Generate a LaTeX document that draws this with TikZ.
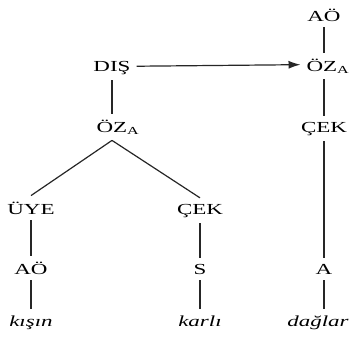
\documentclass[tikz,border=0pt]{standalone}
\usepackage{fontspec}
\setmainfont{Liberation Serif}
\newfontfamily\treefont[FakeStretch=1.5]{Liberation Serif}
\usetikzlibrary{arrows.meta}

\tikzset{
  lbl/.style={anchor=base, inner sep=0pt, outer sep=4.5pt, font=\treefont\fontsize{11.5}{13}\selectfont},
  word/.style={lbl, font=\treefont\fontsize{11.5}{13}\selectfont\itshape},
  edge/.style={line width=0.9pt, color=black!85},
}

\begin{document}
\begin{tikzpicture}[x=0.75pt,y=0.75pt,yscale=-1,xscale=1]
\useasboundingbox (0,0) rectangle (351,344);

% Text Node
\node [lbl] (dis) at (112,71) {DIŞ};
% Text Node
\node [lbl] (ozL) at (118,132) {ÖZ\textsubscript{A}};
% Text Node
\node [lbl] (uye) at (31,214) {ÜYE};
% Text Node
\node [lbl] (cekM) at (200,214) {ÇEK};
% Text Node
\node [lbl] (aoL) at (31,274) {AÖ};
% Text Node
\node [lbl] (s) at (200,274) {S};
% Text Node
\node [word] (kisin) at (31,326) {kışın};
% Text Node
\node [word] (karli) at (200,326) {karlı};
% Text Node
\node [lbl] (aoR) at (324,21) {AÖ};
% Text Node
\node [lbl] (ozR) at (328,71) {ÖZ\textsubscript{A}};
% Text Node
\node [lbl] (cekR) at (324,132) {ÇEK};
% Text Node
\node [lbl] (a) at (324,274) {A};
% Text Node
\node [word] (daglar) at (318,326) {dağlar};

%Straight Lines
\draw [edge] (dis.south) -- (dis.south |- ozL.north);
\draw [edge] (ozL.south -| dis.south) -- (uye.north);
\draw [edge] (ozL.south -| dis.south) -- (cekM.north);
\draw [edge] (uye.south) -- (aoL.north);
\draw [edge] (aoL.south) -- (kisin.north);
\draw [edge] (cekM.south) -- (s.north);
\draw [edge] (s.south) -- (karli.north);
\draw [edge] (aoR.south) -- (aoR.south |- ozR.north);
\draw [edge] (aoR.south |- ozR.south) -- (cekR.north);
\draw [edge] (cekR.south) -- (a.north);
\draw [edge] (a.south) -- (daglar.north -| a.south);
%Arrow
\draw [edge, -{Latex[length=9pt,width=6pt]}] ([yshift=-1pt]dis.east) -- ([yshift=-1pt]ozR.west);

\end{tikzpicture}
\end{document}
